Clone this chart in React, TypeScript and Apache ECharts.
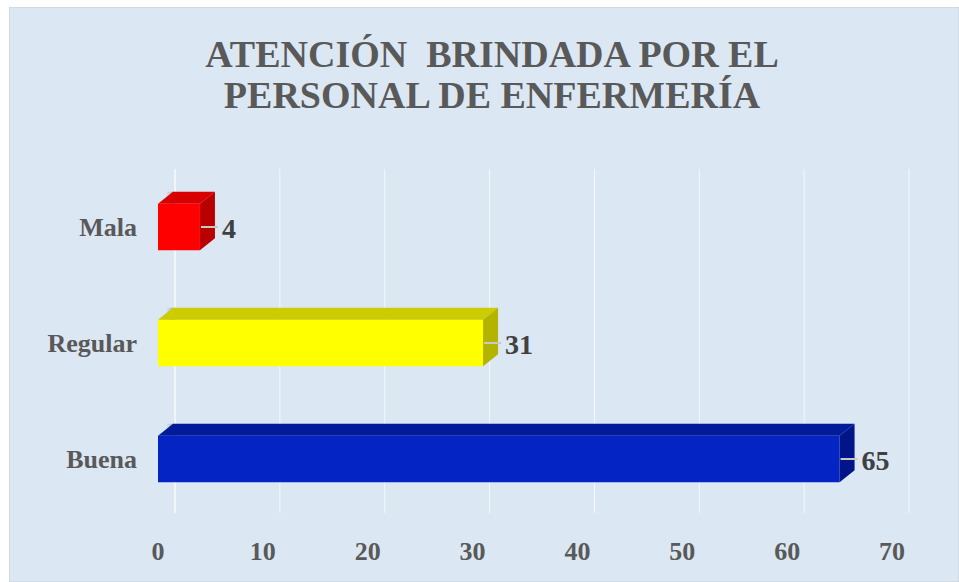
import React, { useEffect, useRef } from "react";
import * as echarts from "echarts";

const categories = ["Buena", "Regular", "Mala"];
const values = [65, 31, 4];
const frontColors = ["#0524c4", "#ffff00", "#ff0000"];
const topColors = ["#011b9a", "#cccc00", "#d80000"];
const sideColors = ["#011589", "#b3b300", "#b80000"];
const tickValues = [0, 10, 20, 30, 40, 50, 60, 70];
const titleText = "ATENCIÓN  BRINDADA POR EL\nPERSONAL DE ENFERMERÍA";

const DX = 15;
const DY = 12;
const FONT = "Liberation Serif";

export default function App() {
  const ref = useRef<HTMLDivElement>(null);
  useEffect(() => {
    if (!ref.current) return;
    const chart = echarts.init(ref.current, null, { renderer: "svg" });
    const barData = values.map((v, i) => [v, i]);
    const gridData = tickValues.map((t) => [t, 0]);
    chart.setOption({
      animation: false,
      backgroundColor: "#dbe7f3",
      title: {
        text: titleText,
        left: 478,
        top: 21,
        textAlign: "center",
        textStyle: {
          fontFamily: FONT,
          fontWeight: "bold",
          fontSize: 38,
          lineHeight: 41,
          color: "#595959",
        },
      },
      grid: { left: 149, right: 67, top: 162, bottom: 65 },
      xAxis: {
        type: "value",
        min: 0,
        max: 70,
        interval: 10,
        axisLine: { show: false },
        axisTick: { show: false },
        splitLine: { show: false },
        axisLabel: {
          margin: 21,
          fontFamily: FONT,
          fontWeight: "bold",
          fontSize: 26,
          color: "#595959",
        },
      },
      yAxis: {
        type: "category",
        data: categories,
        axisLine: { show: false },
        axisTick: { show: false },
        axisLabel: {
          margin: 21,
          fontFamily: FONT,
          fontWeight: "bold",
          fontSize: 26,
          color: "#595959",
        },
      },
      graphic: [
        {
          type: "rect",
          shape: { x: 0, y: 0, width: 950, height: 575 },
          style: { fill: "none", stroke: "#c9cdd2", lineWidth: 1 },
          silent: true,
        },
      ],
      series: [
        {
          type: "custom",
          data: gridData,
          encode: { x: 0 },
          z: 1,
          silent: true,
          renderItem: (params: any, api: any) => {
            const cs = params.coordSys;
            const v = api.value(0);
            const p = api.coord([v, 0]);
            const x = p[0] + DX + 2;
            const isWall = v === 0;
            return {
              type: "line",
              shape: { x1: x, y1: cs.y, x2: x, y2: cs.y + cs.height - 4 },
              style: {
                stroke: isWall ? "#f2f4f6" : "rgba(255,255,255,0.7)",
                lineWidth: isWall ? 2 : 1,
              },
            };
          },
        },
        {
          type: "custom",
          data: barData,
          encode: { x: 0, y: 1 },
          z: 2,
          renderItem: (params: any, api: any) => {
            const v = api.value(0);
            const idx = api.value(1);
            const start = api.coord([0, idx]);
            const end = api.coord([v, idx]);
            const h = api.size([0, 1])[1] * 0.4;
            const x0 = start[0];
            const x1 = end[0];
            const yc = start[1];
            const top = yc - h / 2;
            const bottom = yc + h / 2;
            return {
              type: "group",
              children: [
                {
                  type: "rect",
                  shape: { x: x0 + DX - 7, y: top - DY, width: 9, height: h + 10 },
                  style: {
                    fill: {
                      type: "linear",
                      x: 0,
                      y: 0,
                      x2: 1,
                      y2: 0,
                      colorStops: [
                        { offset: 0, color: "rgba(120,120,120,0)" },
                        { offset: 1, color: "rgba(110,110,110,0.55)" },
                      ],
                    },
                  },
                },
                {
                  type: "rect",
                  shape: { x: x0, y: top, width: x1 - x0, height: h },
                  style: { fill: frontColors[idx] },
                },
                {
                  type: "polygon",
                  shape: {
                    points: [
                      [x0, top],
                      [x0 + DX, top - DY],
                      [x1 + DX, top - DY],
                      [x1, top],
                    ],
                  },
                  style: { fill: topColors[idx] },
                },
                {
                  type: "polygon",
                  shape: {
                    points: [
                      [x1, top],
                      [x1 + DX, top - DY],
                      [x1 + DX, bottom - DY],
                      [x1, bottom],
                    ],
                  },
                  style: { fill: sideColors[idx] },
                },
                {
                  type: "line",
                  shape: { x1: x1 + 1, y1: yc, x2: x1 + DX + 3, y2: yc },
                  style: { stroke: "#c8c8c8", lineWidth: 2 },
                },
                {
                  type: "text",
                  x: x1 + DX + 7,
                  y: yc + 1,
                  style: {
                    text: String(v),
                    fontFamily: FONT,
                    fontWeight: "bold",
                    fontSize: 28,
                    fill: "#404040",
                    verticalAlign: "middle",
                    align: "left",
                  },
                },
              ],
            };
          },
        },
      ],
    });
    return () => chart.dispose();
  }, []);
  return (
    <div
      ref={ref}
      style={{ position: "fixed", left: 9, top: 7, width: 950, height: 575 }}
    />
  );
}
